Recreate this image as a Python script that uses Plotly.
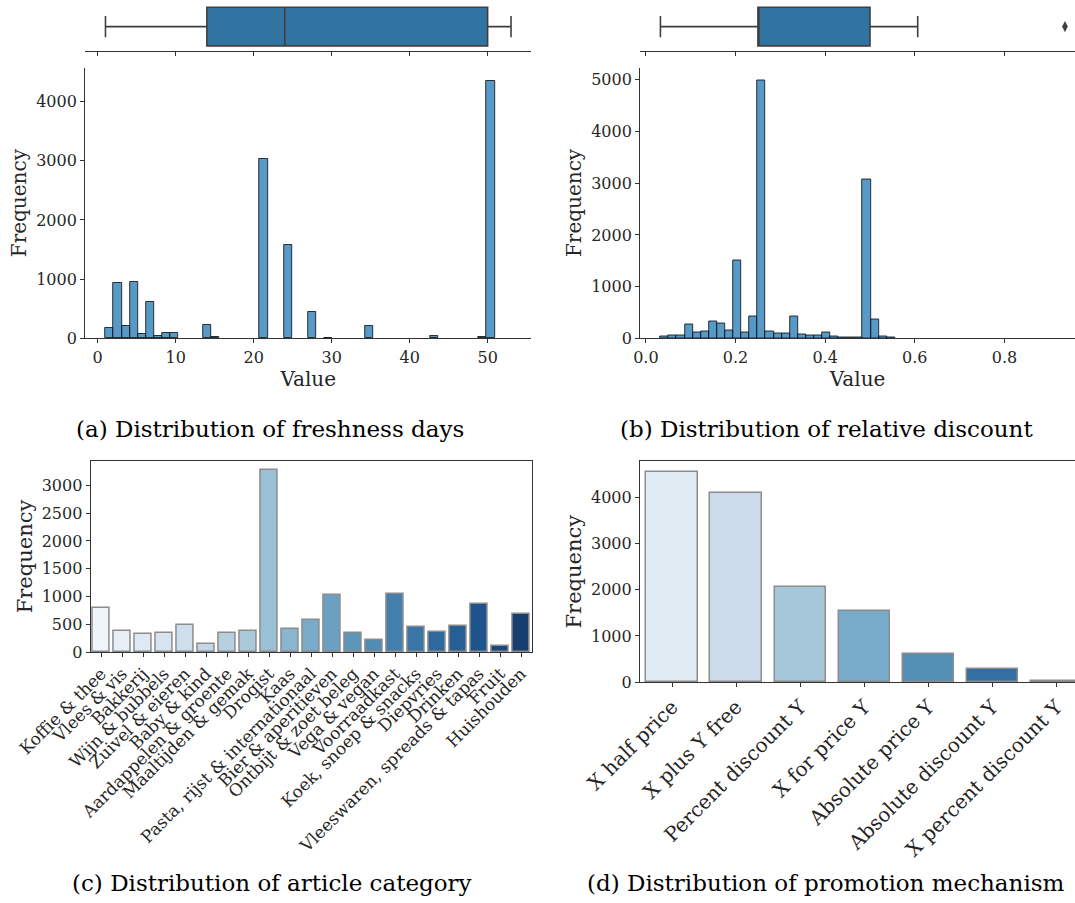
import colorsys
import plotly.graph_objects as go

# ---------------- data ----------------
# (a) freshness days histogram (50 bins)
fresh_bin_start = 1.0
fresh_bin_width = 1.04
fresh_counts = [180, 940, 208, 955, 67, 607, 34, 95, 84, 0,
                0, 0, 219, 17, 0, 0, 0, 0, 0, 3030,
                0, 0, 1570, 0, 0, 438, 0, 5, 0, 0,
                0, 0, 208, 0, 0, 0, 0, 0, 0, 0,
                34, 0, 0, 0, 0, 0, 17, 4350, 0, 0]
fresh_box = dict(low=1, q1=14, med=24, q3=50, high=53)

# (b) relative discount histogram (50 bins)
disc_bin_start = 0.0325
disc_bin_width = 0.01805
disc_counts = [39, 58, 58, 258, 110, 129, 323, 290, 155, 1510,
               110, 426, 4990, 135, 97, 97, 426, 77, 45, 58,
               110, 39, 10, 10, 10, 3070, 355, 39, 10, 0,
               0, 0, 0, 0, 0, 0, 0, 0, 0, 0,
               0, 0, 0, 0, 0, 0, 0, 0, 0, 0]
disc_box = dict(low=0.0325, q1=0.25, med=0.25, q3=0.5, high=0.6065)
disc_outliers = [0.935]

# (c) article category
categories = ["Koffie & thee", "Vlees & vis", "Bakkerij", "Wijn & bubbels",
              "Zuivel & eieren", "Baby & kind", "Aardappelen & groente",
              "Maaltijden & gemak", "Drogist", "Kaas",
              "Pasta, rijst & internationaal", "Bier & aperitieven",
              "Ontbijt & zoet beleg", "Vega & vegan", "Voorraadkast",
              "Koek, snoep & snacks", "Diepvries", "Drinken",
              "Vleeswaren, spreads & tapas", "Fruit", "Huishouden"]
category_counts = [800, 385, 325, 343, 493, 144, 343, 373, 3277, 415,
                   583, 1028, 343, 210, 1046, 457, 355, 475, 860, 102, 680]

# (d) promotion mechanism
mechanisms = ["X half price", "X plus Y free", "Percent discount Y",
              "X for price Y", "Absolute price Y", "Absolute discount Y",
              "X percent discount Y"]
mechanism_counts = [4550, 4080, 2063, 1532, 611, 280, 25]

# ---------------- helpers ----------------
W, H = 1075, 903
BLUES = [(247, 251, 255), (222, 235, 247), (198, 219, 239), (158, 202, 225),
         (107, 174, 214), (66, 146, 198), (33, 113, 181), (8, 81, 156), (8, 48, 107)]


def blues(t):
    p = t * (len(BLUES) - 1)
    i = min(int(p), len(BLUES) - 2)
    f = p - i
    return tuple(BLUES[i][k] + (BLUES[i + 1][k] - BLUES[i][k]) * f for k in range(3))


def desat(rgb, prop=0.75):
    h, l, s = colorsys.rgb_to_hls(*[c / 255 for c in rgb])
    r, g, b = colorsys.hls_to_rgb(h, l, s * prop)
    return f"rgb({r*255:.0f},{g*255:.0f},{b*255:.0f})"


def palette(n):
    return [desat(blues((i + 1) / (n + 1))) for i in range(n)]


def dx(a, b):
    return [a / W, b / W]


def dy(top, bottom):
    return [1 - bottom / H, 1 - top / H]


def nonzero(start, width, counts):
    xs, ys = [], []
    for i, n in enumerate(counts):
        if n > 0:
            xs.append(start + (i + 0.5) * width)
            ys.append(n)
    return xs, ys


SPINE = "#333333"
TXT = "#262626"
FONT = "DejaVu Serif"
CAPFONT = "DejaVu Serif"
HIST_FILL = "rgba(31,119,180,0.75)"
HIST_EDGE = "rgba(20,20,20,0.85)"
BOX_FILL = desat((31, 119, 180))
BOX_LINE = "#3f3f3f"

fig = go.Figure()

# ----- (a) box -----
fig.add_trace(go.Box(q1=[fresh_box["q1"]], median=[fresh_box["med"]], q3=[fresh_box["q3"]],
                     lowerfence=[fresh_box["low"]], upperfence=[fresh_box["high"]],
                     y=[0], orientation="h", width=0.8, whiskerwidth=0.55,
                     fillcolor=BOX_FILL, line=dict(color=BOX_LINE, width=1.6),
                     boxpoints=False, xaxis="x", yaxis="y", showlegend=False))
# ----- (a) histogram -----
fx, fy = nonzero(fresh_bin_start, fresh_bin_width, fresh_counts)
fig.add_trace(go.Bar(x=fx, y=fy, width=fresh_bin_width,
                     marker=dict(color=HIST_FILL, line=dict(color=HIST_EDGE, width=1)),
                     xaxis="x2", yaxis="y2", showlegend=False))

# ----- (b) box -----
fig.add_trace(go.Box(q1=[disc_box["q1"]], median=[disc_box["med"]], q3=[disc_box["q3"]],
                     lowerfence=[disc_box["low"]], upperfence=[disc_box["high"]],
                     y=[0], orientation="h", width=0.8, whiskerwidth=0.55,
                     fillcolor=BOX_FILL, line=dict(color=BOX_LINE, width=1.6),
                     boxpoints=False, xaxis="x3", yaxis="y3", showlegend=False))
fig.add_trace(go.Scatter(x=disc_outliers, y=[0] * len(disc_outliers), mode="markers",
                         marker=dict(symbol="diamond-tall", size=8, color=BOX_LINE),
                         xaxis="x3", yaxis="y3", showlegend=False))
# ----- (b) histogram -----
bx, by = nonzero(disc_bin_start, disc_bin_width, disc_counts)
fig.add_trace(go.Bar(x=bx, y=by, width=disc_bin_width,
                     marker=dict(color=HIST_FILL, line=dict(color=HIST_EDGE, width=1)),
                     xaxis="x4", yaxis="y4", showlegend=False))

# ----- (c) categories -----
fig.add_trace(go.Bar(x=categories, y=category_counts, width=0.8,
                     marker=dict(color=palette(len(categories)),
                                 line=dict(color="rgb(140,140,140)", width=1.5)),
                     xaxis="x5", yaxis="y5", showlegend=False))

# ----- (d) mechanisms -----
fig.add_trace(go.Bar(x=mechanisms, y=mechanism_counts, width=0.8,
                     marker=dict(color=palette(len(mechanisms)),
                                 line=dict(color="rgb(140,140,140)", width=1.5)),
                     xaxis="x6", yaxis="y6", showlegend=False))


def tf(size):
    return dict(family=FONT, size=size, color=TXT)


common = dict(showgrid=False, zeroline=False, showline=True, linecolor=SPINE, linewidth=1.2,
              ticks="outside", ticklen=4, tickwidth=1, tickcolor=SPINE, automargin=False)

fresh_lo, fresh_hi = 1, 53
disc_lo, disc_hi = 0.0325, 0.935
fr_pad = 0.05 * (fresh_hi - fresh_lo)
ds_pad = 0.05 * (disc_hi - disc_lo)

fig.update_layout(
    template="none",
    width=W, height=H, margin=dict(l=0, r=0, t=0, b=0, autoexpand=False),
    paper_bgcolor="white", plot_bgcolor="white", bargap=0,
    # (a) box
    xaxis=dict(domain=dx(85.2, 531.3), anchor="y", range=[fresh_lo - fr_pad, fresh_hi + fr_pad],
               dtick=10, showticklabels=False, **common),
    yaxis=dict(domain=dy(2.5, 50.7), anchor="x", range=[-0.5, 0.5], visible=False),
    # (a) hist
    xaxis2=dict(domain=dx(85.2, 531.3), anchor="y2", range=[fresh_lo - fr_pad, fresh_hi + fr_pad],
                dtick=10, tickfont=tf(16), title=dict(text="Value", font=tf(20), standoff=2), **common),
    yaxis2=dict(domain=dy(68, 338.3), anchor="x2", range=[0, max(fresh_counts) * 1.05],
                dtick=1000, tickfont=tf(16), title=dict(text="Frequency", font=tf(20), standoff=4), **common),
    # (b) box
    xaxis3=dict(domain=dx(640.2, 1075), anchor="y3", range=[disc_lo - ds_pad, 0.9574],
                dtick=0.2, showticklabels=False, **common),
    yaxis3=dict(domain=dy(2.5, 50.7), anchor="x3", range=[-0.5, 0.5], visible=False),
    # (b) hist
    xaxis4=dict(domain=dx(640.2, 1075), anchor="y4", range=[disc_lo - ds_pad, 0.9574],
                dtick=0.2, tickformat=".1f", tickfont=tf(16),
                title=dict(text="Value", font=tf(20), standoff=2), **common),
    yaxis4=dict(domain=dy(67.5, 338.3), anchor="x4", range=[0, max(disc_counts) * 1.05],
                dtick=1000, tickfont=tf(16), title=dict(text="Frequency", font=tf(20), standoff=4), **common),
    # (c)
    xaxis5=dict(domain=dx(90.7, 531.5), anchor="y5", range=[-0.5, len(categories) - 0.5],
                tickmode="linear", tick0=0, dtick=1,
                tickangle=-45, mirror=True, tickfont=tf(17), **common),
    yaxis5=dict(domain=dy(461, 652), anchor="x5", range=[0, max(category_counts) * 1.05],
                dtick=500, mirror=True, tickfont=tf(16),
                title=dict(text="Frequency", font=tf(21), standoff=3), **common),
    # (d)
    xaxis6=dict(domain=dx(640, 1075), anchor="y6", range=[-0.5, 6.29],
                tickmode="linear", tick0=0, dtick=1,
                tickangle=-45, mirror=True, tickfont=tf(20), **common),
    yaxis6=dict(domain=dy(461, 682.3), anchor="x6", range=[0, max(mechanism_counts) * 1.05],
                dtick=1000, tickfont=tf(16),
                title=dict(text="Frequency", font=tf(21), standoff=3), **common),
)

captions = [("(a) Distribution of freshness days", 270.3, 429),
            ("(b) Distribution of relative discount", 826, 429),
            ("(c) Distribution of article category", 272, 883),
            ("(d) Distribution of promotion mechanism", 825.5, 883)]
for text, cx, cy in captions:
    fig.add_annotation(text=text, x=cx / W, y=1 - cy / H, xref="paper", yref="paper",
                       xanchor="center", yanchor="middle", showarrow=False,
                       font=dict(family=CAPFONT, size=23, color="black"))

fig.write_html("out.html")
